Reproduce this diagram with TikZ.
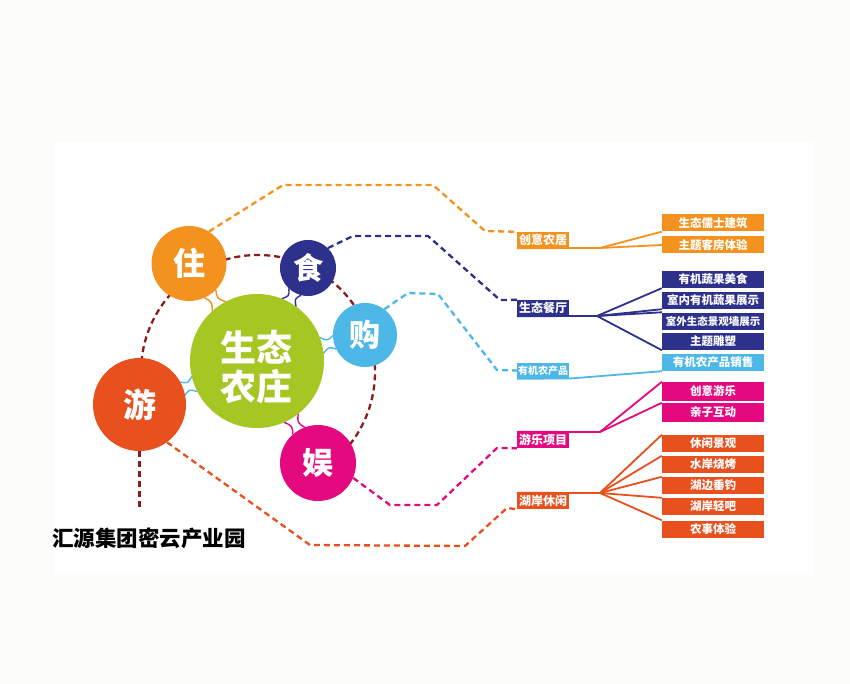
\documentclass[tikz,border=0pt]{standalone}
\usepackage{fontspec}
\newfontfamily\cjk{Noto Sans CJK SC}
\usetikzlibrary{calc}
\definecolor{cOr}{RGB}{243,146,30}
\definecolor{cDb}{RGB}{46,49,140}
\definecolor{cLb}{RGB}{77,184,232}
\definecolor{cGr}{RGB}{166,198,36}
\definecolor{cRd}{RGB}{232,80,30}
\definecolor{cMg}{RGB}{228,9,127}
\definecolor{cDr}{RGB}{139,28,28}
\definecolor{cBg}{RGB}{252,253,250}
\begin{document}
\begin{tikzpicture}[x=1pt,y=-1pt,
  bub/.style={circle, fill=#1, inner sep=0pt, text=white},
  dsh/.style={draw=#1, line width=2.3pt, dash pattern=on 6pt off 4pt},
  mid/.style={fill=#1, text=white, minimum width=52pt, minimum height=16pt, inner sep=0pt, font=\cjk\bfseries\fontsize{12}{12}\selectfont},
  rbox/.style={fill=#1, text=white, minimum width=102pt, minimum height=17pt, inner sep=0pt, font=\cjk\bfseries\fontsize{11.5}{12}\selectfont},
  fan/.style={draw=#1, line width=1.8pt},
  neck/.style={draw=#1, line width=1.4pt}]
\useasboundingbox (0,0) rectangle (850,684);
\fill[cBg] (0,0) rectangle (850,684);
\fill[white] (55,142) rectangle (813,575);

% big dashed ring
\draw[dsh=cDr] (258,372) ++(-180:117) arc[start angle=-180, end angle=40, radius=117];

% necks between core and satellites
\foreach \sx/\sy/\sr/\col in {189/263.5/37.5/cOr, 308/268/28/cDb, 365/335/32/cLb, 139.5/404.5/46.5/cLb, 318/463/38/cMg}{
  \pgfmathsetmacro\a{atan2(\sy-361,\sx-257)}
  \pgfmathsetmacro\d{sqrt((\sx-257)^2+(\sy-361)^2)}
  \pgfmathsetmacro\m{(67+\d-\sr)/2}
  \pgfmathsetmacro\ds{asin(7/\sr)}
  \foreach \s in {1,-1}{
    \pgfmathsetmacro\ac{\a+\s*7}
    \pgfmathsetmacro\as{\a+180-\s*\ds}
    \draw[neck=\col] ({257+67*cos(\ac)},{361+67*sin(\ac)}) .. controls ({257+\m*cos(\a)+\s*3*cos(\a+90)},{361+\m*sin(\a)+\s*3*sin(\a+90)}) .. ({\sx+\sr*cos(\as)},{\sy+\sr*sin(\as)});
  }
}

% circles
\node[bub=cGr, minimum size=134pt] (core) at (257,361) {};
\node[text=white, align=center, inner sep=0pt, font=\cjk\bfseries\fontsize{36}{39}\selectfont] (coret) at (256,367) {生态\\农庄};
\node[bub=cOr, minimum size=75pt, font=\cjk\bfseries\fontsize{32}{32}\selectfont] (zhu) at (189,263.5) {住};
\node[bub=cDb, minimum size=56pt, font=\cjk\bfseries\fontsize{30}{30}\selectfont] (shi) at (308,268) {食};
\node[bub=cLb, minimum size=64pt, font=\cjk\bfseries\fontsize{31}{31}\selectfont] (gou) at (365,335) {购};
\node[bub=cRd, minimum size=93pt, font=\cjk\bfseries\fontsize{33}{33}\selectfont] (you) at (139.5,404.5) {游};
\node[bub=cMg, minimum size=76pt, font=\cjk\bfseries\fontsize{31}{31}\selectfont] (yu) at (318,463) {娱};

% middle labels
\node[mid=cOr] (L1) at (543,240) {创意农居};
\node[mid=cDb] (L2) at (543,308) {生态餐厅};
\node[mid=cLb, font=\cjk\bfseries\fontsize{10}{10}\selectfont] (L3) at (543,370.5) {有机农产品};
\node[mid=cMg] (L4) at (543,440) {游乐项目};
\node[mid=cRd] (L5) at (543,501) {湖岸休闲};

% right boxes
\node[rbox=cOr] (R1) at (713,223) {生态儒士建筑};
\node[rbox=cOr] (R2) at (713,245) {主题客房体验};
\node[rbox=cDb] (R3) at (713,279.5) {有机蔬果美食};
\node[rbox=cDb] (R4) at (713,300.5) {室内有机蔬果展示};
\node[rbox=cDb, font=\cjk\bfseries\fontsize{10.5}{11}\selectfont] (R5) at (713,321) {室外生态景观墙展示};
\node[rbox=cDb] (R6) at (713,341.5) {主题雕塑};
\node[rbox=cLb] (R7) at (713,362.5) {有机农产品销售};
\node[rbox=cMg, minimum height=19pt] (R8) at (713,391.5) {创意游乐};
\node[rbox=cMg, minimum height=19pt] (R9) at (713,412.5) {亲子互动};
\node[rbox=cRd] (R10) at (713,443.5) {休闲景观};
\node[rbox=cRd] (R11) at (713,464.5) {水岸烧烤};
\node[rbox=cRd] (R12) at (713,485.5) {湖边垂钓};
\node[rbox=cRd] (R13) at (713,506.5) {湖岸轻吧};
\node[rbox=cRd] (R14) at (713,529) {农事体验};

% dashed connectors
\draw[dsh=cOr] (zhu.58) -- (283,185) -- (433,185) -- (485,231) -- (L1.north west);
\draw[dsh=cDb] (shi.45) -- (353,236) -- (428,236) -- (500,300) -- (L2.north west);
\draw[dsh=cLb] (gou.53) -- (408,293) -- (438,294) -- (497,370) -- (L3.west);
\draw[dsh=cMg] (yu.-23) -- (390,505) -- (437,505) -- (497,448) -- (L4.south west);
\draw[dsh=cRd] (you.-54) -- (310,545) -- (465,546) -- (507,508) -- (L5.south west);
\coordinate (yend) at (139.5,508);
\draw[dsh=cDr] (you.south) -- (yend);

% solid fans
\coordinate (b1) at (600,248);
\draw[fan=cOr] (L1.south west) -- (b1) -- (R1.south west);
\draw[fan=cOr] (b1) -- (R2.west);
\coordinate (b2) at (597,316);
\draw[fan=cDb] (L2.south west) -- (b2);
\foreach \t in {R3.south west, R4.south west, R5.north west, R6.south west}{\draw[fan=cDb] (b2) -- (\t);}
\coordinate (b3) at (570,378.5);
\draw[fan=cLb] (L3.south west) -- (b3) -- (R7.south west);
\coordinate (b4) at (600,432);
\draw[fan=cMg] (L4.north west) -- (b4);
\foreach \t in {R8.north west, R9.north west}{\draw[fan=cMg] (b4) -- (\t);}
\coordinate (b5) at (600,493);
\draw[fan=cRd] (L5.north west) -- (b5);
\foreach \t in {R10.north west, R11.north west, R12.north west, R13.north west, R14.north west}{\draw[fan=cRd] (b5) -- (\t);}

% title
\node[anchor=west, inner sep=0pt, font=\cjk\bfseries\fontsize{21.5}{22}\selectfont] (title) at (52,538) {汇源集团密云产业园};
\end{tikzpicture}
\end{document}
